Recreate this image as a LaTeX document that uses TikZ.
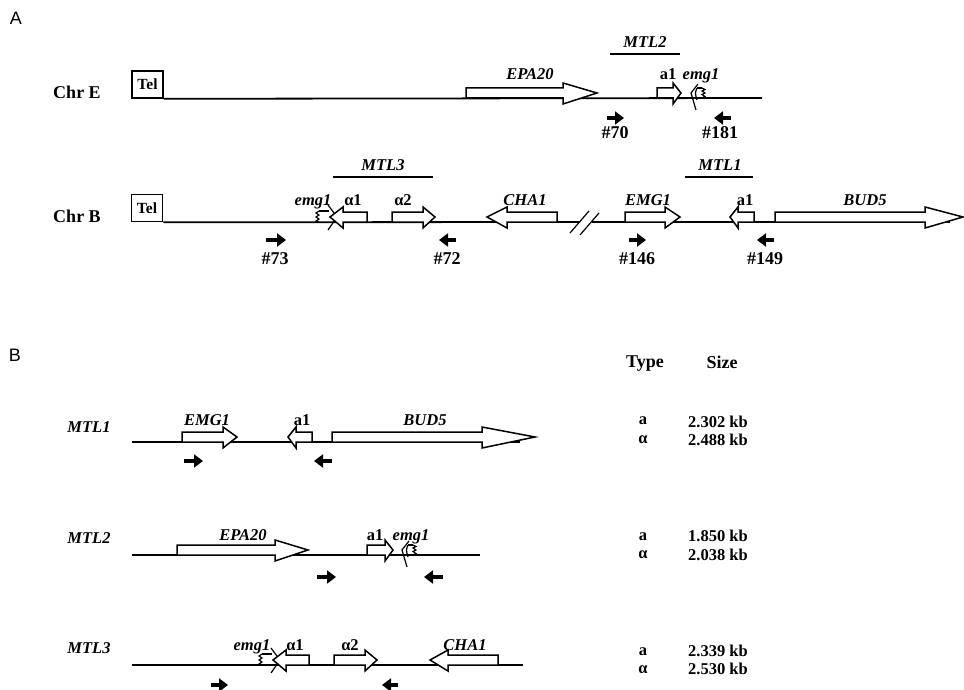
\documentclass[tikz,border=0pt]{standalone}
\usepackage{fontspec}
\setmainfont{Liberation Serif}
\newfontfamily\labsans{Liberation Sans}
\usetikzlibrary{arrows.meta}
\newcommand\rgene[4]{\draw[gene] (#1,#4) -- (#1,#4-10) -- (#2,#4-10) -- (#2,#4-15) -- (#3,#4-5) -- (#2,#4+6) -- (#2,#4) -- cycle;}
\newcommand\lgene[4]{\draw[gene] (#3,#4) -- (#3,#4-10) -- (#2,#4-10) -- (#2,#4-15) -- (#1,#4-5) -- (#2,#4+6) -- (#2,#4) -- cycle;}
\newcommand\rprimer[3]{\draw[primer] (#1,#3) -- (#2,#3);}
\newcommand\lprimer[3]{\draw[primer] (#2,#3) -- (#1,#3);}
% truncated emg1 pointing left: tip x, line y
\newcommand\emgleft[2]{%
  \draw[thinl] (#1+7,#2-14) .. controls (#1+3,#2-9) .. (#1,#2-5) .. controls (#1+3,#2+3) .. (#1+5,#2+12);
  \draw[thinl] (#1+6,#2-10) .. controls (#1+4,#2-5) .. (#1+6,#2+2);
  \draw[thinl] (#1+6,#2-10) -- (#1+11,#2-10);
  \draw[thinl] (#1+11,#2-10) -- (#1+14,#2-8.5) -- (#1+11,#2-7) -- (#1+14,#2-5) -- (#1+11,#2-3.5) -- (#1+14,#2-1.5) -- (#1+11,#2);}
% truncated emg1 pointing right: squiggle x, line y
\newcommand\emgright[2]{%
  \draw[thinl] (#1,#2-11) -- (#1-3,#2-9) -- (#1,#2-7) -- (#1-3,#2-5) -- (#1,#2-3) -- (#1-3,#2-1) -- (#1,#2);
  \draw[thinl] (#1,#2-11) -- (#1+10,#2-11);
  \draw[thinl] (#1+9,#2-17) -- (#1+18,#2-5) -- (#1+9,#2+8);}
\tikzset{
  gene/.style={draw=black, fill=white, line width=1.5pt, line join=miter},
  chrom/.style={line width=1.8pt},
  bar/.style={line width=1.8pt},
  thinl/.style={line width=1.2pt},
  primer/.style={line width=3.2pt, -{Triangle[length=9pt,width=13pt]}},
  lab/.style={font=\fontsize{18}{20}\selectfont\bfseries, inner sep=0pt, anchor=base},
  glab/.style={font=\fontsize{16.5}{19}\selectfont\bfseries\itshape, inner sep=0pt, anchor=base},
  slab/.style={font=\fontsize{16.5}{19}\selectfont\bfseries, inner sep=0pt, anchor=base},
  tlab/.style={font=\fontsize{18}{21}\selectfont\bfseries, inner sep=0pt, anchor=base},
  panel/.style={font=\labsans\fontsize{18}{21}\selectfont, inner sep=0pt, anchor=base},
  telbox/.style={draw, line width=1.6pt, font=\fontsize{15.5}{18}\selectfont\bfseries, inner sep=0pt, minimum width=31pt, minimum height=27pt}
}
\begin{document}
\begin{tikzpicture}[x=1pt,y=-1pt]
\useasboundingbox (0,0) rectangle (964,690);
% ---------- Panel A ----------
\node[panel] (pA) at (16,25) {A};
\node[lab] (chrE) at (77,99) {Chr E};
\node[lab] (chrB) at (77,222) {Chr B};
% Chr E
\node[telbox] (telE) at (147.5,84.5) {Tel};
\draw[chrom] (telE.south east) -- (762,98);
\rgene{466}{563}{597}{98}
\rgene{657}{673}{681}{98}
\emgleft{691}{98}
\draw[bar] (610,54) -- (680,54);
\node[glab] (mtl2a) at (645,48) {MTL2};
\node[glab] (epa20a) at (530,80) {EPA20};
\node[slab] (a1a) at (668,80) {a1};
\node[glab] (emg1a) at (701,80) {emg1};
\rprimer{607}{624}{118}
\lprimer{714}{731}{118}
\node[lab] (p70) at (615,139) {\#70};
\node[lab] (p181) at (720,139) {\#181};
% Chr B
\node[telbox] (telB) at (147,208) {Tel};
\draw[chrom] (telB.south east) -- (580,222);
\draw[chrom] (592,222) -- (950,222);
\draw[thinl] (570,233) -- (589,211);
\draw[thinl] (580,235) -- (599,213);
\emgright{319}{222}
\lgene{330}{343}{367}{222}
\rgene{392}{423}{435}{222}
\lgene{487}{507}{557}{222}
\rgene{625}{665}{680}{222}
\lgene{730}{738}{754}{222}
\rgene{775}{925}{963}{222}
\draw[bar] (333,177) -- (433,177);
\draw[bar] (685,177) -- (753,177);
\node[glab] (mtl3a) at (383,171) {MTL3};
\node[glab] (mtl1a) at (720,171) {MTL1};
\node[glab] (emg1b) at (313,205) {emg1};
\node[slab] (al1b) at (353,205) {α1};
\node[slab] (al2b) at (403,205) {α2};
\node[glab] (cha1b) at (525,205) {CHA1};
\node[glab] (emgb) at (648,205) {EMG1};
\node[slab] (a1b) at (745,205) {a1};
\node[glab] (bud5b) at (865,205) {BUD5};
\rprimer{266}{286}{240}
\lprimer{439}{456}{240}
\rprimer{629}{646}{240}
\lprimer{757}{774}{240}
\node[lab] (p73) at (275,264) {\#73};
\node[lab] (p72) at (447,264) {\#72};
\node[lab] (p146) at (637,264) {\#146};
\node[lab] (p149) at (765,264) {\#149};
% ---------- Panel B ----------
\node[panel] (pB) at (15,361) {B};
\node[tlab] (type) at (645,367) {Type};
\node[tlab] (size) at (722,368) {Size};
% MTL1 row
\node[glab] (mtl1l) at (89,432) {MTL1};
\draw[chrom] (132,442) -- (520,442);
\rgene{182}{223}{237}{442}
\lgene{288}{296}{312}{442}
\rgene{332}{482}{535}{442}
\node[glab] (emg1r) at (207,425) {EMG1};
\node[slab] (a1r1) at (302,425) {a1};
\node[glab] (bud5r) at (425,425) {BUD5};
\rprimer{184}{203}{461}
\lprimer{314}{332}{461}
\node[slab] (t1a) at (643,424) {a};
\node[slab] (s1a) at (718,427) {2.302 kb};
\node[slab] (t1b) at (643,443) {α};
\node[slab] (s1b) at (718,445) {2.488 kb};
% MTL2 row
\node[glab] (mtl2l) at (89,543) {MTL2};
\draw[chrom] (132,555) -- (480,555);
\rgene{177}{275}{308}{555}
\rgene{367}{385}{393}{555}
\emgleft{402}{555}
\node[glab] (epa20r) at (243,540) {EPA20};
\node[slab] (a1r2) at (375,540) {a1};
\node[glab] (emg1r2) at (411,540) {emg1};
\rprimer{317}{336}{577}
\lprimer{424}{443}{577}
\node[slab] (t2a) at (643,540) {a};
\node[slab] (s2a) at (718,541) {1.850 kb};
\node[slab] (t2b) at (643,558) {α};
\node[slab] (s2b) at (718,560) {2.038 kb};
% MTL3 row
\node[glab] (mtl3l) at (89,653) {MTL3};
\draw[chrom] (132,665) -- (523,665);
\emgright{262}{665}
\lgene{273}{286}{309}{665}
\rgene{334}{365}{377}{665}
\lgene{430}{448}{498}{665}
\node[glab] (emg1r3) at (252,650) {emg1};
\node[slab] (al1r) at (295,650) {α1};
\node[slab] (al2r) at (350,650) {α2};
\node[glab] (cha1r) at (465,650) {CHA1};
\rprimer{211}{228}{685}
\lprimer{382}{398}{685}
\node[slab] (t3a) at (643,655) {a};
\node[slab] (s3a) at (718,656) {2.339 kb};
\node[slab] (t3b) at (643,673) {α};
\node[slab] (s3b) at (718,674) {2.530 kb};
\end{tikzpicture}
\end{document}
